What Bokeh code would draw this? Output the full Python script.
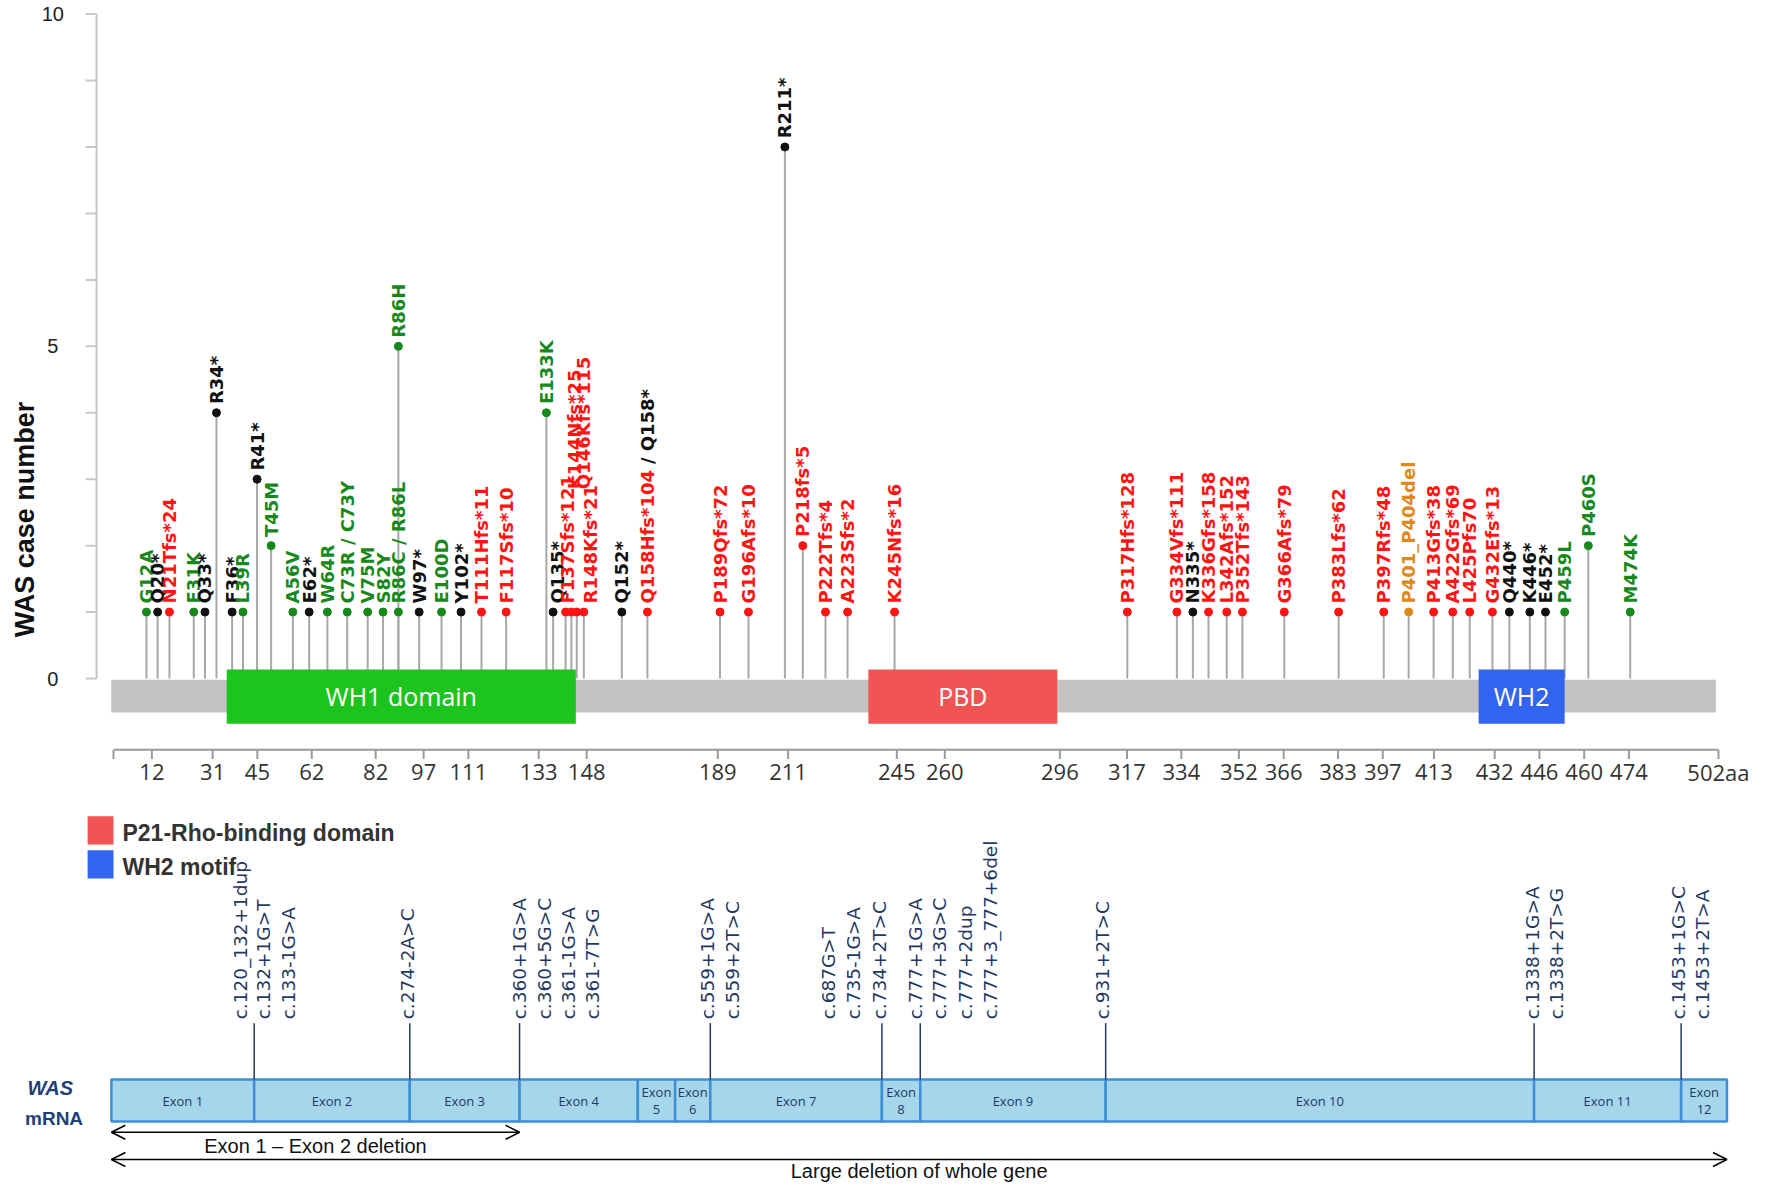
import math
from bokeh.plotting import figure
from bokeh.models import Range1d, ColumnDataSource, Arrow, OpenHead
from bokeh.core.properties import value
from bokeh.embed import file_html
from bokeh.resources import INLINE

# ---------------- data ----------------
mut_labels = ["G12A", "Q20*", "N21Tfs*24", "E31K", "Q33*", "R34*", "F36*", "L39R", "R41*", "T45M",
              "A56V", "E62*", "W64R", "C73R / C73Y", "V75M", "S82Y", "R86C / R86L", "R86H", "W97*",
              "E100D", "Y102*", "T111Hfs*11", "F117Sfs*10", "E133K", "Q135*", "F137Sfs*121",
              "K144Nfs*25", "Q146Kfs*115", "R148Kfs*21", "Q152*", "Q158Hfs*104", "P189Qfs*72",
              "G196Afs*10", "R211*", "P218fs*5", "P222Tfs*4", "A223Sfs*2", "K245Nfs*16",
              "P317Hfs*128", "G334Vfs*111", "N335*", "K336Gfs*158", "L342Afs*152", "P352Tfs*143",
              "G366Afs*79", "P383Lfs*62", "P397Rfs*48", "P401_P404del", "P413Gfs*38", "A422Gfs*69",
              "L425Pfs70", "G432Efs*13", "Q440*", "K446*", "E452*", "P459L", "P460S", "M474K"]
# plotted position along the protein (aa), as drawn in the figure
mut_pos = [10.3, 13.8, 17.5, 25.1, 28.6, 32.2, 37.1, 40.5, 44.9, 49.3,
           56.1, 61.2, 66.9, 73.1, 79.5, 84.3, 89.1, 89.1, 95.6,
           102.6, 108.7, 115.1, 122.8, 135.4, 137.5, 141.4,
           143.2, 144.9, 147.1, 159.0, 167.0, 189.7,
           198.6, 210.0, 215.6, 222.7, 229.6, 244.3,
           317.1, 332.6, 337.6, 342.5, 348.2, 353.1,
           366.2, 383.2, 397.3, 405.1, 412.9, 418.9,
           424.2, 431.3, 436.6, 443.0, 447.9, 453.9, 461.3, 474.4]
mut_count = [1, 1, 1, 1, 1, 4, 1, 1, 3, 2,
             1, 1, 1, 1, 1, 1, 1, 5, 1,
             1, 1, 1, 1, 4, 1, 1,
             1, 1, 1, 1, 1, 1,
             1, 8, 2, 1, 1, 1,
             1, 1, 1, 1, 1, 1,
             1, 1, 1, 1, 1, 1,
             1, 1, 1, 1, 1, 1, 2, 1]
M, N, F, D = "missense", "nonsense", "frameshift", "inframe"
mut_type = [M, N, F, M, N, N, N, M, N, M,
            M, N, M, M, M, M, M, M, N,
            M, N, F, F, M, N, F,
            F, F, F, N, F, F,
            F, N, F, F, F, F,
            F, F, N, F, F, F,
            F, F, F, D, F, F,
            F, F, N, N, N, M, M, M]

# label placement tweaks: (label position aa, label start height) ; None = default
label_tweaks = {"Q135*": (138.9, None), "F137Sfs*121": (142.1, None),
                "K144Nfs*25": (144.2, 2.85), "Q146Kfs*115": (147.0, 2.85),
                "R148Kfs*21": (149.2, None)}
# second, differently coloured part of a label
extra_label = {"Q158Hfs*104": ("/ Q158*", N)}

protein_length = 502
domain_names = ["WH1 domain", "PBD", "WH2"]
domain_start = [35.4, 236.1, 427.0]
domain_end = [144.6, 295.2, 453.9]

ruler_ticks = [0, 12, 31, 45, 62, 82, 97, 111, 133, 148, 189, 211, 245, 260, 296, 317, 334,
               352, 366, 383, 397, 413, 432, 446, 460, 474, 502]
y_major = [0, 5, 10]
y_minor = [1, 2, 3, 4, 6, 7, 8, 9]

legend_labels = ["P21-Rho-binding domain", "WH2 motif"]

exon_names = ["Exon 1", "Exon 2", "Exon 3", "Exon 4", "Exon 5", "Exon 6", "Exon 7", "Exon 8",
              "Exon 9", "Exon 10", "Exon 11", "Exon 12"]
# exon edges in cDNA layout units (as drawn)
exon_edges_c = [-2, 132, 278, 381, 492, 527, 560, 721, 757, 931, 1333, 1471, 1514]
splice_sites_c = [132, 278, 381, 560, 721, 757, 931, 1333, 1471]
splice_labels = ["c.120_132+1dup", "c.132+1G>T", "c.133-1G>A", "c.274-2A>C",
                 "c.360+1G>A", "c.360+5G>C", "c.361-1G>A", "c.361-7T>G",
                 "c.559+1G>A", "c.559+2T>C", "c.687G>T", "c.735-1G>A", "c.734+2T>C",
                 "c.777+1G>A", "c.777+3G>C", "c.777+2dup", "c.777+3_777+6del",
                 "c.931+2T>C", "c.1338+1G>A", "c.1338+2T>G", "c.1453+1G>C", "c.1453+2T>A"]
splice_label_c = [118.8, 141.0, 164.4, 275.7,
                  380.7, 404.1, 427.4, 449.7,
                  557.8, 581.1, 671.3, 694.6, 719.0,
                  752.9, 775.2, 799.6, 822.9,
                  927.9, 1331.9, 1354.2, 1468.7, 1491.0]

deletion_labels = ["Exon 1 \u2013 Exon 2 deletion", "Large deletion of whole gene"]
deletion_from = [0, 0]     # exon edge index
deletion_to = [3, 12]

# ---------------- styles ----------------
TYPE_COLOR = {M: "#17881b", N: "#111111", F: "#ff1414", D: "#e0881a"}
DOMAIN_COLOR = ["#1ec41e", "#f25454", "#3264f0"]
STEM = "#a8a8a8"
NAVY = "#1f3864"

p = figure(width=1756, height=1186, x_range=Range1d(-35.35, 513.9), y_range=Range1d(-7.646, 10.205),
           x_axis_type=None, y_axis_type=None, output_backend="svg", toolbar_location=None,
           min_border=0)
p.outline_line_color = None
p.background_fill_color = "white"

# ---- y axis (case number) ----
AX_X = -5.3
p.segment(x0=[AX_X], y0=[0], x1=[AX_X], y1=[10], line_color="#c4c4c4", line_width=2)
yt = y_major + y_minor
p.segment(x0=[AX_X] * len(yt), y0=yt, x1=[AX_X - 3.4] * len(yt), y1=yt, line_color="#c8c8c8", line_width=2)
p.text(x=[-19.0] * 3, y=y_major, text=[str(v) for v in y_major], text_align="center",
       text_baseline="middle", text_font=value("Liberation Sans"), text_font_size="20px", text_color="#222222")
p.text(x=[-27.6], y=[2.45], text=["WAS  case number"], angle=math.pi / 2, text_align="center",
       text_baseline="middle", text_font=value("Liberation Sans"), text_font_size="27px",
       text_font_style="bold", text_color="#111111")

# ---- stems ----
p.segment(x0=mut_pos, y0=[0] * len(mut_pos), x1=mut_pos, y1=mut_count, line_color=STEM, line_width=2)

# ---- protein bar and domains ----
p.quad(left=[-0.7], right=[protein_length - 0.8], top=[-0.017], bottom=[-0.51],
       fill_color="#c2c2c2", line_color=None)
p.quad(left=domain_start, right=domain_end, top=[0.136] * 3, bottom=[-0.68] * 3,
       fill_color=DOMAIN_COLOR, line_color=None)
p.text(x=[(a + b) / 2 for a, b in zip(domain_start, domain_end)], y=[-0.27] * 3, text=domain_names,
       text_align="center", text_baseline="middle", text_font=value("Open Sans"),
       text_font_size="25px", text_color="white")

# ---- dots ----
p.scatter(x=mut_pos, y=mut_count, size=8, color=[TYPE_COLOR[t] for t in mut_type])

# ---- mutation labels ----
OFF = 0.13
EM_U = 18 / 66.44  # one em of label font in case units
lx, ly, lc = [], [], []
ex_x, ex_y, ex_t, ex_c = [], [], [], []
for lab, pos, cnt, t in zip(mut_labels, mut_pos, mut_count, mut_type):
    x0, y0 = label_tweaks.get(lab, (None, None))
    x0 = pos if x0 is None else x0
    y0 = cnt + OFF if y0 is None else y0
    lx.append(x0); ly.append(y0); lc.append(TYPE_COLOR[t])
    if lab in extra_label:
        txt, tt = extra_label[lab]
        ex_x.append(x0); ex_y.append(y0 + 7.74 * EM_U); ex_t.append(txt); ex_c.append(TYPE_COLOR[tt])
lab_src = ColumnDataSource(dict(x=lx + ex_x, y=ly + ex_y, text=mut_labels + ex_t, color=lc + ex_c))
p.text(x="x", y="y", text="text", text_color="color", source=lab_src, angle=math.pi / 2,
       text_align="left", text_baseline="middle", text_font=value("DejaVu Sans"),
       text_font_size="18px", text_font_style="bold")

# ---- aa ruler ----
RUL_Y = -1.071
p.segment(x0=[0], y0=[RUL_Y], x1=[protein_length], y1=[RUL_Y], line_color="#9a9a9a", line_width=2)
p.segment(x0=ruler_ticks, y0=[RUL_Y] * len(ruler_ticks), x1=ruler_ticks, y1=[RUL_Y - 0.14] * len(ruler_ticks),
          line_color="#9a9a9a", line_width=2)
rt_text = ["" if v == 0 else (f"{v}aa" if v == protein_length else str(v)) for v in ruler_ticks]
p.text(x=ruler_ticks, y=[-1.40] * len(ruler_ticks), text=rt_text, text_align="center", text_baseline="middle",
       text_font=value("Open Sans"), text_font_size="22px", text_color="#333333")

# ---- legend ----
p.quad(left=[-8.1, -8.1], right=[0, 0], top=[-2.075, -2.585], bottom=[-2.5, -3.01],
       fill_color=DOMAIN_COLOR[1:], line_color=None)
p.text(x=[2.8, 2.8], y=[-2.33, -2.84], text=legend_labels, text_align="left", text_baseline="middle",
       text_font=value("Liberation Sans"), text_font_size="23px", text_font_style="bold",
       text_color="#333333")

# ---- mRNA ----
ex_left = [c / 3 for c in exon_edges_c[:-1]]
ex_right = [c / 3 for c in exon_edges_c[1:]]
EX_TOP, EX_BOT = -6.037, -6.667
p.quad(left=ex_left, right=ex_right, top=[EX_TOP] * 12, bottom=[EX_BOT] * 12,
       fill_color="#a6d6ec", line_color="#3d8ed6", line_width=2.5)
one_x, one_t, two_x, two_n = [], [], [], []
for name, a, b in zip(exon_names, ex_left, ex_right):
    if b - a < 16:
        two_x.append((a + b) / 2); two_n.append(name.split()[1])
    else:
        one_x.append((a + b) / 2); one_t.append(name)
exfont = dict(text_align="center", text_baseline="middle", text_font=value("Open Sans"),
              text_font_size="13px", text_color=NAVY)
p.text(x=one_x, y=[-6.36] * len(one_x), text=one_t, **exfont)
p.text(x=two_x, y=[-6.225] * len(two_x), text=["Exon"] * len(two_x), **exfont)
p.text(x=two_x, y=[-6.48] * len(two_x), text=two_n, **exfont)

p.text(x=[-19.8], y=[-6.156], text=["WAS"], text_align="center", text_baseline="middle",
       text_font=value("Liberation Sans"), text_font_size="20px", text_font_style="bold italic",
       text_color="#1f3f7a")
p.text(x=[-18.6], y=[-6.616], text=["mRNA"], text_align="center", text_baseline="middle",
       text_font=value("Liberation Sans"), text_font_size="19px", text_font_style="bold",
       text_color="#1f3f7a")

ss = [c / 3 for c in splice_sites_c]
p.segment(x0=ss, y0=[-5.187] * len(ss), x1=ss, y1=[EX_TOP] * len(ss), line_color=NAVY, line_width=1.5)
p.text(x=[c / 3 for c in splice_label_c], y=[-5.13] * len(splice_label_c), text=splice_labels,
       angle=math.pi / 2, text_align="left", text_baseline="middle", text_font=value("DejaVu Sans"),
       text_font_size="18.5px", text_color=NAVY)

# ---- deletions ----
del_y = [-6.83, -7.24]
del_ty = [-7.03, -7.42]
for lab, i0, i1, yy, ty in zip(deletion_labels, deletion_from, deletion_to, del_y, del_ty):
    xa, xb = exon_edges_c[i0] / 3, exon_edges_c[i1] / 3
    p.add_layout(Arrow(start=OpenHead(size=14, line_width=1.5, line_color="black"),
                       end=OpenHead(size=14, line_width=1.5, line_color="black"),
                       x_start=xa, y_start=yy, x_end=xb, y_end=yy, line_width=1.5, line_color="black"))
    p.text(x=[(xa + xb) / 2], y=[ty], text=[lab], text_align="center", text_baseline="middle",
           text_font=value("Liberation Sans"), text_font_size="20px", text_color="#111111")

open("out.html", "w").write(file_html(p, INLINE))
